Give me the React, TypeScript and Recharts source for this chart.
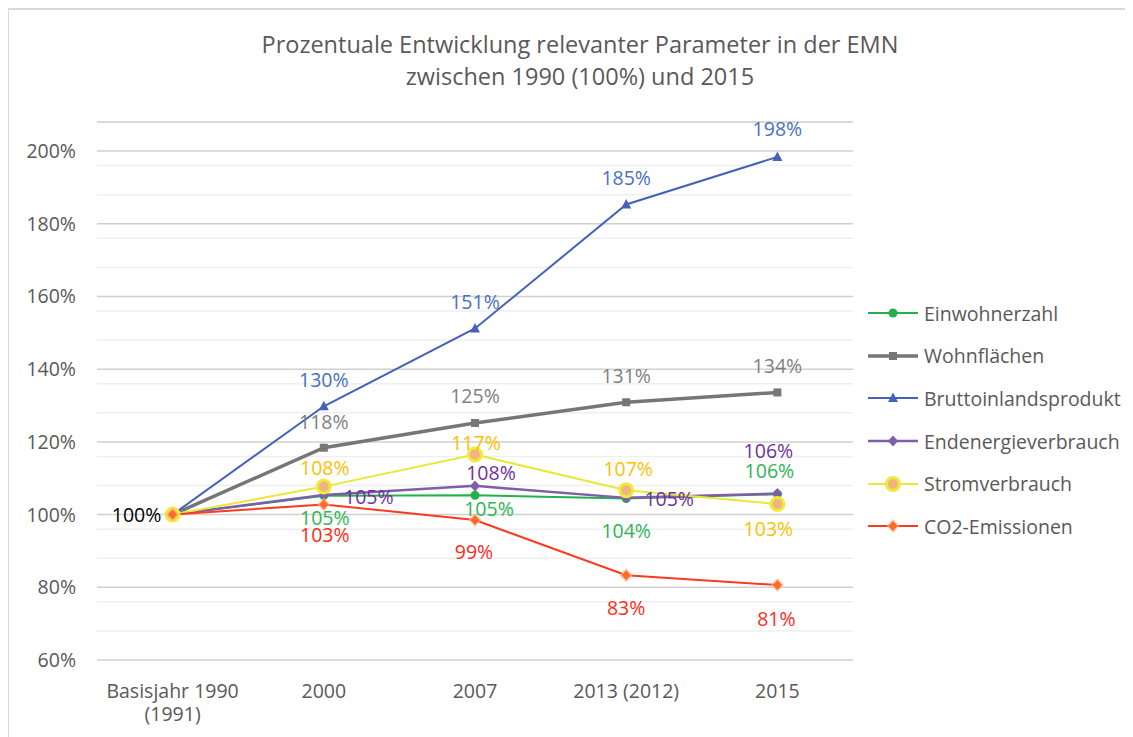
import React from "react";
import { LineChart, Line, XAxis, YAxis, CartesianGrid, LabelList, Legend } from "recharts";

// ---------- data ----------
const categories = ["Basisjahr 1990\n(1991)", "2000", "2007", "2013 (2012)", "2015"];
const einwohnerzahl = [100, 105.2, 105.3, 104.4, 105.6];
const wohnflaechen = [100, 118.4, 125.2, 130.9, 133.6];
const bruttoinlandsprodukt = [100, 129.8, 151.2, 185.3, 198.4];
const endenergieverbrauch = [100, 105.4, 107.9, 104.6, 105.8];
const stromverbrauch = [100, 107.7, 116.5, 106.7, 102.9];
const co2Emissionen = [100, 102.8, 98.5, 83.3, 80.6];
const yTicks = [60, 80, 100, 120, 140, 160, 180, 200];
const yMinorTicks = [64, 68, 72, 76, 84, 88, 92, 96, 104, 108, 112, 116, 124, 128, 132, 136, 144, 148, 152, 156, 164, 168, 172, 176, 184, 188, 192, 196, 204, 208];
const titleLines = ["Prozentuale Entwicklung relevanter Parameter in der EMN", "zwischen 1990 (100%) und 2015"];

const data = categories.map((cat, i) => ({
  cat,
  ein: einwohnerzahl[i],
  wohn: wohnflaechen[i],
  bip: bruttoinlandsprodukt[i],
  ende: endenergieverbrauch[i],
  strom: stromverbrauch[i],
  co2: co2Emissionen[i],
}));

const FONT = "'Open Sans', sans-serif";
const TEXT = "#595959";
const FS = 19.5;

// ---------- markers ----------
type MarkerKind = "circle" | "square" | "triangle" | "diamond" | "bigcircle" | "co2diamond";

const Marker = ({ kind, cx, cy, color }: { kind: MarkerKind; cx: number; cy: number; color: string }) => {
  if (cx == null || cy == null) return null;
  switch (kind) {
    case "circle":
      return <circle cx={cx} cy={cy} r={4.5} fill={color} />;
    case "square":
      return <rect x={cx - 4} y={cy - 4} width={8} height={8} fill={color} />;
    case "triangle":
      return <polygon points={`${cx},${cy - 5.5} ${cx - 5},${cy + 4} ${cx + 5},${cy + 4}`} fill={color} />;
    case "diamond":
      return <polygon points={`${cx},${cy - 5.5} ${cx + 5},${cy} ${cx},${cy + 5.5} ${cx - 5},${cy}`} fill={color} />;
    case "bigcircle":
      return <circle cx={cx} cy={cy} r={6.5} fill="#f4b183" stroke="#ecec3a" strokeWidth={3} />;
    case "co2diamond":
      return (
        <g>
          <polygon points={`${cx},${cy - 7} ${cx + 6.5},${cy} ${cx},${cy + 7} ${cx - 6.5},${cy}`} fill="#ffb080" opacity={0.7} />
          <polygon points={`${cx},${cy - 5} ${cx + 4.5},${cy} ${cx},${cy + 5} ${cx - 4.5},${cy}`} fill="#ff6a2a" />
        </g>
      );
  }
  return null;
};

const dotFn = (kind: MarkerKind, color: string) => (props: any) => (
  <Marker key={`${kind}-${props.index}`} kind={kind} cx={props.cx} cy={props.cy} color={color} />
);

// ---------- labels ----------
type Place = [number, number, string?] | null;

const labelFn = (color: string, places: Place[]) => (props: any) => {
  const { x, y, value, index } = props;
  const p = places[index];
  if (!p || x == null || y == null) return null;
  return (
    <text
      key={`lbl-${color}-${index}`}
      x={x + p[0]}
      y={y + p[1]}
      textAnchor="middle"
      dominantBaseline="central"
      fill={p[2] ?? color}
      fontSize={FS}
      fontFamily={FONT}
    >
      {Math.round(Number(value))}%
    </text>
  );
};

// ---------- series config ----------
const series = [
  { key: "ein", name: "Einwohnerzahl", color: "#22b14c", width: 2, marker: "circle" as MarkerKind, labelColor: "#2fb458",
    places: [null, [1, 22], [14, 13], [0, 32], [-8, -24]] as Place[] },
  { key: "wohn", name: "Wohnflächen", color: "#767676", width: 3.5, marker: "square" as MarkerKind, labelColor: "#7f7f7f",
    places: [null, [0, -26], [0, -27], [0, -27], [0, -27]] as Place[] },
  { key: "bip", name: "Bruttoinlandsprodukt", color: "#4462b8", width: 2, marker: "triangle" as MarkerKind, labelColor: "#4a6fc4",
    places: [null, [0, -27], [0, -27], [0, -27], [0, -28]] as Place[] },
  { key: "ende", name: "Endenergieverbrauch", color: "#7e5ea8", width: 2.5, marker: "diamond" as MarkerKind, labelColor: "#7030a0",
    places: [null, [45, 2], [16, -13], [43, 1], [-9, -43]] as Place[] },
  { key: "strom", name: "Stromverbrauch", color: "#e8e838", width: 2, marker: "bigcircle" as MarkerKind, labelColor: "#ffc000",
    places: [null, [1, -19], [1, -12], [2, -22], [-9, 24]] as Place[] },
  { key: "co2", name: "CO2-Emissionen", color: "#fb3a1e", width: 2, marker: "co2diamond" as MarkerKind, labelColor: "#ff2a1a",
    places: [[-36, 0, "#000000"], [1, 30], [-1, 31], [0, 32], [-1, 33]] as Place[] },
];

// ---------- ticks ----------
const XTick = (props: any) => {
  const { x, y, payload } = props;
  const lines = String(payload.value).split("\n");
  return (
    <g>
      {lines.map((l, i) => (
        <text key={i} x={x} y={y + 30 + i * 23} textAnchor="middle" dominantBaseline="central" fill={TEXT} fontSize={FS} fontFamily={FONT}>
          {l}
        </text>
      ))}
    </g>
  );
};

// ---------- legend ----------
const LegendContent = () => (
  <div style={{ fontFamily: FONT, fontSize: FS, color: TEXT }}>
    {series.map((s) => (
      <div key={s.key} style={{ height: 42.6, display: "flex", alignItems: "center" }}>
        <svg width={50} height={20} style={{ flex: "none" }}>
          <line x1={0} y1={10} x2={50} y2={10} stroke={s.color} strokeWidth={s.width} />
          <Marker kind={s.marker} cx={25} cy={10} color={s.color} />
        </svg>
        <span style={{ marginLeft: 6, whiteSpace: "nowrap" }}>{s.name}</span>
      </div>
    ))}
  </div>
);

export default function App() {
  return (
    <div style={{ position: "relative", width: 1125, height: 729, fontFamily: FONT }}>
      <div
        style={{
          position: "absolute",
          left: -1,
          top: 0,
          width: 1126,
          height: 729,
          borderLeft: "2px solid #d9d9d9",
          borderTop: "2px solid #d9d9d9",
          boxSizing: "border-box",
        }}
      />
      <div
        style={{
          position: "absolute",
          left: 0,
          top: 20,
          width: 1144,
          textAlign: "center",
          fontSize: 23.5,
          lineHeight: "32px",
          color: TEXT,
          fontFamily: FONT,
        }}
      >
        {titleLines.map((t) => (
          <div key={t}>{t}</div>
        ))}
      </div>
      <div style={{ position: "absolute", left: 0, top: 0 }}>
        <LineChart width={1125} height={729} data={data} margin={{ top: 114, right: 280, bottom: 0, left: 29 }}>
          <CartesianGrid vertical={false} horizontalValues={yMinorTicks} stroke="#efefef" strokeWidth={1.5} />
          <CartesianGrid vertical={false} stroke="#d0d0d0" strokeWidth={1.5} />
          <XAxis
            dataKey="cat"
            axisLine={false}
            tickLine={false}
            tickSize={0}
            tickMargin={0}
            height={77}
            padding={{ left: 75.6, right: 75.6 }}
            tick={<XTick />}
            interval={0}
          />
          <YAxis
            domain={[60, 208]}
            ticks={yTicks}
            axisLine={false}
            tickLine={false}
            tickSize={0}
            tickMargin={21}
            width={60}
            tickFormatter={(v: number) => `${v}%`}
            tick={{ fill: TEXT, fontSize: FS, fontFamily: FONT }}
            allowDataOverflow
          />
          <Legend
            layout="horizontal"
            verticalAlign="middle"
            align="center"
            content={<LegendContent />}
            wrapperStyle={{ left: 860, top: 284, width: 270 }}
          />
          {series.map((s) => (
            <Line
              key={s.key}
              dataKey={s.key}
              name={s.name}
              type="linear"
              stroke={s.color}
              strokeWidth={s.width}
              dot={dotFn(s.marker, s.color)}
              activeDot={false}
              isAnimationActive={false}
            >
              <LabelList dataKey={s.key} content={labelFn(s.labelColor, s.places)} />
            </Line>
          ))}
        </LineChart>
      </div>
    </div>
  );
}
